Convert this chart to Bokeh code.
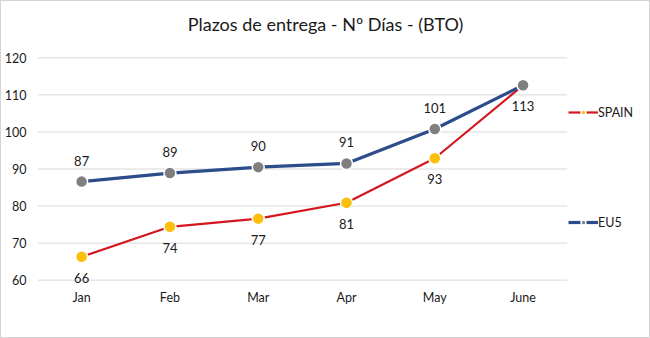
from bokeh.plotting import figure
from bokeh.models import ColumnDataSource, Legend, LegendItem, FixedTicker, Range1d, Label
from bokeh.embed import file_html
from bokeh.resources import INLINE
from bokeh.core.properties import value

months = ["Jan", "Feb", "Mar", "Apr", "May", "June"]
spain = [66.3, 74.4, 76.6, 80.9, 92.9, 112.6]
eu5 = [86.6, 88.9, 90.5, 91.5, 100.8, 112.6]
spain_labels = ["66", "74", "77", "81", "93", "113"]
eu5_labels = ["87", "89", "90", "91", "101", ""]
y_ticks = [60, 70, 80, 90, 100, 110, 120]
title_text = "Plazos de entrega - Nº Días - (BTO)"

FONT = "Lato"
TXT = "#1a1a1a"
W, H = 650, 338
IW, IH = W - 2, H - 2            # inside the 1px border
LEFT = 36
PX_X = 88.0                      # pixels per month slot
PX_Y = 221.0 / (y_ticks[-1] - y_ticks[0])   # pixels per unit
TOP_PAD, BOT_PAD = 56, 59

xi = list(range(len(months)))
x_range = Range1d(-0.5, -0.5 + (IW - LEFT) / PX_X)
y_range = Range1d(y_ticks[0] - BOT_PAD / PX_Y, y_ticks[-1] + TOP_PAD / PX_Y)

p = figure(x_range=x_range, y_range=y_range, width=W, height=H,
           output_backend="svg", toolbar_location=None,
           min_border_left=LEFT, min_border_right=0, min_border_top=0, min_border_bottom=0)
p.outline_line_color = None
p.styles = {"border": "1px solid #d4d4d4", "box-sizing": "border-box"}

p.xaxis.visible = False
p.xgrid.grid_line_color = None
p.ygrid.grid_line_color = None
p.yaxis.ticker = FixedTicker(ticks=y_ticks)
ax = p.yaxis[0]
ax.axis_line_color = None
ax.major_tick_line_color = None
ax.minor_tick_line_color = None
ax.major_tick_out = 0
ax.major_tick_in = 0
ax.major_label_text_font = FONT
ax.major_label_text_font_size = "12.5px"
ax.major_label_text_color = TXT
ax.major_label_standoff = 11

# horizontal grid lines spanning the month slots
p.segment(x0=[-0.5] * len(y_ticks), x1=[len(months) - 0.5] * len(y_ticks),
          y0=y_ticks, y1=y_ticks, line_color="#d9d9d9", line_width=1)

src_s = ColumnDataSource(dict(x=xi, y=spain, lab=spain_labels))
src_e = ColumnDataSource(dict(x=xi, y=eu5, lab=eu5_labels))
src_m = ColumnDataSource(dict(x=xi, y=[y_ticks[0]] * len(months), lab=months))

ls = p.line("x", "y", source=src_s, line_color="#d4161e", line_width=2.2)
le = p.line("x", "y", source=src_e, line_color="#2c4c8a", line_width=3.2)
ms = p.scatter("x", "y", source=src_s, size=12, fill_color="#fbbf0c",
               line_color="white", line_width=1.5)
me = p.scatter("x", "y", source=src_e, size=12, fill_color="#7f7f7f",
               line_color="white", line_width=1.5)

p.text("x", "y", text="lab", source=src_s, y_offset=21, text_align="center",
       text_baseline="middle", text_font=value(FONT), text_font_size="13px", text_color=TXT)
p.text("x", "y", text="lab", source=src_e, y_offset=-21, text_align="center",
       text_baseline="middle", text_font=value(FONT), text_font_size="13px", text_color=TXT)
p.text("x", "y", text="lab", source=src_m, y_offset=17, text_align="center",
       text_baseline="middle", text_font=value(FONT), text_font_size="12.5px", text_color=TXT)

p.add_layout(Label(x=W / 2 - 1 - LEFT, y=IH - 20, x_units="screen", y_units="screen",
                   text=title_text, text_align="center", text_baseline="middle",
                   text_font=FONT, text_font_size="18px", text_color=TXT))

common = dict(glyph_width=30, glyph_height=12, label_height=20, label_text_font=FONT,
              label_text_font_size="12.5px", label_text_color=TXT, label_standoff=0,
              background_fill_alpha=0, border_line_color=None, padding=0, margin=0)
leg1 = Legend(items=[LegendItem(label="SPAIN", renderers=[ls, ms])],
              location=(531, IH - 119), **common)
leg2 = Legend(items=[LegendItem(label="EU5", renderers=[le, me])],
              location=(531, IH - 229), **common)
p.add_layout(leg1)
p.add_layout(leg2)

open("out.html", "w").write(file_html(p, INLINE))
